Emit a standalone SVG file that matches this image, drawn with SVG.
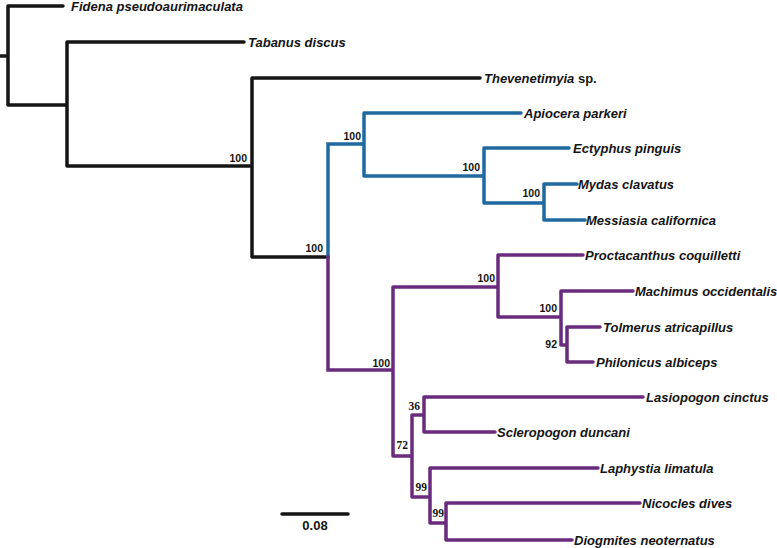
<svg xmlns="http://www.w3.org/2000/svg" width="777" height="548" viewBox="0 0 777 548">
<style>
.br{fill:none;stroke-width:3.5;stroke-linecap:round;stroke-linejoin:miter}
.k{stroke:#151515}
.b{stroke:#1f69a0}
.p{stroke:#6a2b7e}
.tx{font-family:"Liberation Sans",Arial,sans-serif;font-size:13px;font-weight:bold;font-style:italic;fill:#151515}
.sp{font-style:normal}
.bs{font-family:"Liberation Sans",Arial,sans-serif;font-size:10.5px;font-weight:bold;fill:#151515;text-anchor:end}
.bsr{font-family:"Liberation Serif","Times New Roman",serif;font-size:11.5px;font-weight:bold;fill:#151515;text-anchor:end}
.sc{font-family:"Liberation Sans",Arial,sans-serif;font-size:13px;font-weight:bold;fill:#151515;text-anchor:middle}
</style>
<rect width="777" height="548" fill="#ffffff"/>
<g id="connectors">
<path class="br k" d="M0 56H8M8 6V105M8 6H63M8 105H67M67 42V166M67 42H244M67 166H252M252 78V257M252 78H480M252 257H328"/>
<path class="br b" d="M328 257V144H364M364 113V176M364 113H521M364 176H484M484 148V203M484 148H569M484 203H544M544 184V220M544 184H577M544 220H585"/>
<path class="br p" d="M328 257V370H393M393 287V456M393 287H498M498 255V317M498 255H583M498 317H561M561 291V345M561 291H633M561 345H567M567 327V362M567 327H600M567 362H593M393 456H412M412 415V497M412 415H424M424 397V432M424 397H643M424 432H495M412 497H430M430 468V523M430 468H598M430 523H446M446 503V540M446 503H640M446 540H572"/>
<path class="br k" d="M282 514H348" stroke-linecap="butt"/>
</g>
<g id="leaf-fidena"><text class="tx" x="71" y="10.5">Fidena pseudoaurimaculata</text></g>
<g id="leaf-tabanus"><text class="tx" x="248" y="46.5">Tabanus discus</text></g>
<g id="leaf-thevenetimyia"><text class="tx" x="484" y="82.5">Thevenetimyia <tspan class="sp">sp.</tspan></text></g>
<g id="leaf-apiocera"><text class="tx" x="524" y="117.5">Apiocera parkeri</text></g>
<g id="leaf-ectyphus"><text class="tx" x="573" y="152.5">Ectyphus pinguis</text></g>
<g id="leaf-mydas"><text class="tx" x="578" y="188.5">Mydas clavatus</text></g>
<g id="leaf-messiasia"><text class="tx" x="586" y="224.5">Messiasia californica</text></g>
<g id="leaf-proctacanthus"><text class="tx" x="585" y="259.5">Proctacanthus coquilletti</text></g>
<g id="leaf-machimus"><text class="tx" x="635" y="295.5">Machimus occidentalis</text></g>
<g id="leaf-tolmerus"><text class="tx" x="603" y="331.5">Tolmerus atricapillus</text></g>
<g id="leaf-philonicus"><text class="tx" x="596" y="366.5">Philonicus albiceps</text></g>
<g id="leaf-lasiopogon"><text class="tx" x="646" y="401.5">Lasiopogon cinctus</text></g>
<g id="leaf-scleropogon"><text class="tx" x="497" y="436.5">Scleropogon duncani</text></g>
<g id="leaf-laphystia"><text class="tx" x="600" y="472.5">Laphystia limatula</text></g>
<g id="leaf-nicocles"><text class="tx" x="642" y="507.5">Nicocles dives</text></g>
<g id="leaf-diogmites"><text class="tx" x="574" y="544.5">Diogmites neoternatus</text></g>
<g id="node-1"><text class="bs" x="247" y="162">100</text></g>
<g id="node-2"><text class="bs" x="323" y="252">100</text></g>
<g id="node-3"><text class="bs" x="361" y="140">100</text></g>
<g id="node-4"><text class="bs" x="480" y="171">100</text></g>
<g id="node-5"><text class="bs" x="540" y="197">100</text></g>
<g id="node-6"><text class="bs" x="390" y="367">100</text></g>
<g id="node-7"><text class="bs" x="495" y="282">100</text></g>
<g id="node-8"><text class="bs" x="557" y="312">100</text></g>
<g id="node-9"><text class="bs" x="557" y="348">92</text></g>
<g id="node-10"><text class="bsr" x="420" y="410">36</text></g>
<g id="node-11"><text class="bsr" x="408" y="449">72</text></g>
<g id="node-12"><text class="bsr" x="427" y="491">99</text></g>
<g id="node-13"><text class="bsr" x="444" y="517">99</text></g>
<g id="scale"><text class="sc" x="315" y="530">0.08</text></g>
</svg>
